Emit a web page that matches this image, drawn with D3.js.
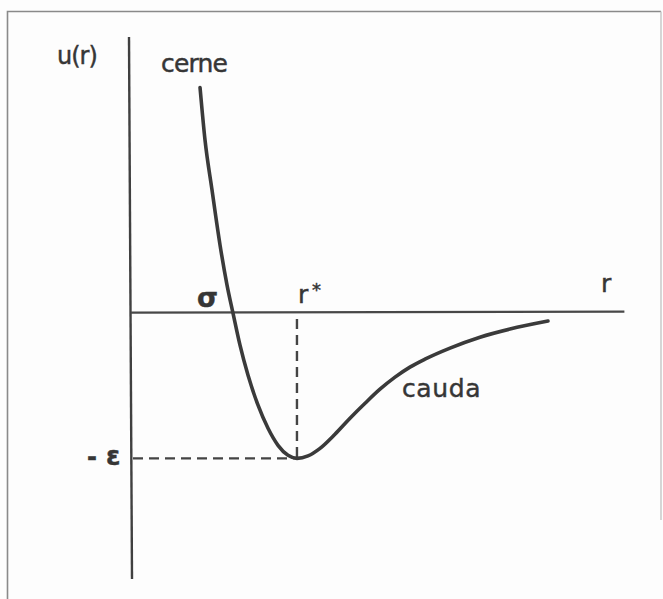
<!DOCTYPE html>
<html>
<head>
<meta charset="utf-8">
<script src="https://cdn.jsdelivr.net/npm/d3@7"></script>
<style>
  html, body { margin: 0; padding: 0; background: #fdfdfd; }
  svg { display: block; }
  text { font-family: "DejaVu Sans", sans-serif; fill: #363636; stroke: #363636; stroke-width: 0.45px; }
</style>
</head>
<body>
<svg id="chart" width="663" height="599"></svg>
<script>
// Potential energy u(r) in units of epsilon, distance r in units of sigma
const rValues = [0.68, 0.728, 0.796, 0.874, 0.942, 1.0, 1.068, 1.146, 1.243, 1.34, 1.437, 1.534, 1.621,
                 1.728, 1.845, 1.99, 2.136, 2.282, 2.427, 2.573, 2.718, 2.864, 3.107, 3.398, 3.689, 4.058];
const uValues = [1.552, 1.193, 0.848, 0.469, 0.193, 0.0, -0.221, -0.428, -0.634, -0.793, -0.91, -0.979, -1.0,
                 -0.983, -0.931, -0.834, -0.724, -0.621, -0.524, -0.441, -0.372, -0.317, -0.241, -0.166, -0.11, -0.055];

// Marked positions on the axes
const sigma = 1.0;
const rStar = 1.621;
const wellDepth = -1.0;

// Axis and region labels
const yAxisLabel = "u(r)";
const xAxisLabel = "r";
const sigmaLabel = "σ";
const rStarLabel = "r";
const rStarMark = "*";
const minusSign = "-";
const depthLabel = "ε";
const coreLabel = "cerne";
const tailLabel = "cauda";

const svg = d3.select("#chart");

const x = d3.scaleLinear().domain([0, 4.8]).range([130, 624.4]);
const y = d3.scaleLinear().domain([-1.83, 1.9]).range([579, 37]);

// frame
svg.append("path")
  .attr("d", "M7.5,599 L7.5,11.5 L661,11.5")
  .attr("fill", "none").attr("stroke", "#8a8a8a").attr("stroke-width", 1.6);
svg.append("line")
  .attr("x1", 661).attr("y1", 11.5).attr("x2", 661).attr("y2", 520)
  .attr("stroke", "#c4c4c4").attr("stroke-width", 1.4);

// axes
svg.append("line")
  .attr("x1", x(0) - 1).attr("y1", y(1.9))
  .attr("x2", x(0) + 2).attr("y2", y(-1.83))
  .attr("stroke", "#404040").attr("stroke-width", 2.4);
svg.append("line")
  .attr("x1", x(0) + 1).attr("y1", y(0) - 0.5)
  .attr("x2", x(4.8)).attr("y2", y(0) - 1.5)
  .attr("stroke", "#484848").attr("stroke-width", 2.2);

// guide lines to the minimum
const dash = "10,6";
svg.append("line")
  .attr("x1", x(0) + 3).attr("y1", y(wellDepth))
  .attr("x2", x(rStar)).attr("y2", y(wellDepth))
  .attr("stroke", "#444").attr("stroke-width", 2.4).attr("stroke-dasharray", dash);
svg.append("line")
  .attr("x1", x(rStar)).attr("y1", y(0) + 6)
  .attr("x2", x(rStar)).attr("y2", y(wellDepth))
  .attr("stroke", "#444").attr("stroke-width", 2.4).attr("stroke-dasharray", dash);

// potential curve
const pts = rValues.map((r, i) => [r, uValues[i]]);
const line = d3.line()
  .x(d => x(d[0])).y(d => y(d[1]))
  .curve(d3.curveMonotoneX);
svg.append("path")
  .datum(pts)
  .attr("d", line)
  .attr("fill", "none")
  .attr("stroke", "#3a3a3a")
  .attr("stroke-width", 3.6)
  .attr("stroke-linecap", "round")
  .attr("stroke-linejoin", "round");

// labels
function label(txt, px, py, opts = {}) {
  const t = svg.append("text")
    .attr("x", px).attr("y", py)
    .attr("font-size", opts.size || 24)
    .attr("font-weight", opts.weight || "normal")
    .text(txt);
  if (opts.ls !== undefined) t.attr("letter-spacing", opts.ls);
  return t;
}
label(yAxisLabel, 57, 64, { size: 24, ls: -1 });
label(coreLabel, 161, 72, { size: 25, ls: -0.8 });
label(sigmaLabel, 197, 307, { size: 27, weight: "bold" });
label(rStarLabel, 298, 303, { size: 25 });
label(rStarMark, 312, 296, { size: 18 });
label(xAxisLabel, 601, 292, { size: 25 });
label(tailLabel, 402, 397, { size: 25, ls: 0.6 });
label(minusSign, 87, 465, { size: 24, weight: "bold" });
label(depthLabel, 106, 465, { size: 26, weight: "bold" });
</script>
</body>
</html>
